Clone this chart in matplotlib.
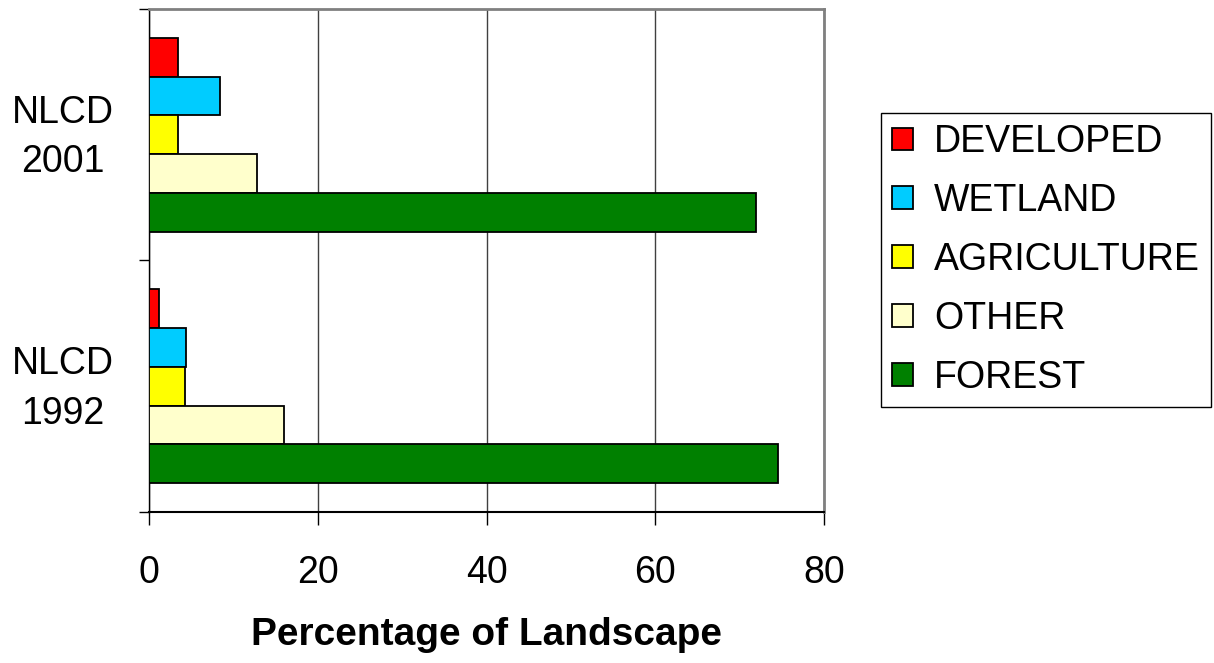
import numpy as np
import matplotlib.pyplot as plt
from matplotlib.patches import Patch
from matplotlib.transforms import ScaledTranslation

# DATOS (porcentaje del paisaje)
periodos = ["NLCD\n1992", "NLCD\n2001"]
clases = ["DEVELOPED", "WETLAND", "AGRICULTURE", "OTHER", "FOREST"]
colores = ["#FF0000", "#00CCFF", "#FFFF00", "#FFFFCC", "#008000"]

developed = [1.2, 3.5]
wetland = [4.4, 8.4]
agriculture = [4.3, 3.5]
other = [16.0, 12.8]
forest = [74.5, 71.9]

valores = [developed, wetland, agriculture, other, forest]

plt.rcParams["font.family"] = ["Liberation Sans", "DejaVu Sans"]

fig = plt.figure(figsize=(12.14, 6.63), dpi=100)
ax = fig.add_axes([0.1227, 0.2278, 0.5561, 0.7586])

y = np.arange(len(periodos))
h = 0.154
desplazamientos = [2, 1, 0, -1, -2]

for serie, color, d in zip(valores, colores, desplazamientos):
    ax.barh(y + d * h, serie, height=h, color=color,
            edgecolor="black", linewidth=1.3, zorder=3)

ax.set_xlim(0, 80)
ax.set_ylim(-0.5, 1.5)
ax.set_xticks([0, 20, 40, 60, 80])
ax.grid(axis="x", color="#404040", linewidth=1.0, zorder=0)

# marcas mayores en los limites de categoria, etiquetas en los centros
ax.set_yticks([-0.5, 0.5, 1.5])
ax.set_yticklabels([])
ax.set_yticks(y, minor=True)
ax.set_yticklabels(periodos, minor=True, fontsize=27,
                   linespacing=1.48, ha="center")
ax.tick_params(axis="y", which="minor", length=0, pad=62)
ax.tick_params(axis="y", which="major", length=7, width=1.0)

# subir un poco las etiquetas de categoria
subir = ScaledTranslation(0, 8 / 100, fig.dpi_scale_trans)
for t in ax.get_yticklabels(minor=True):
    t.set_transform(t.get_transform() + subir)

ax.tick_params(axis="x", length=9, width=1.0, pad=22, labelsize=27)

ax.set_xlabel("Percentage of Landscape", fontsize=28, fontweight="bold",
              labelpad=19)

ax.spines["top"].set_color("#808080")
ax.spines["right"].set_color("#808080")
ax.spines["top"].set_linewidth(2)
ax.spines["right"].set_linewidth(2)
ax.spines["left"].set_linewidth(1.0)
ax.spines["bottom"].set_linewidth(1.5)

manejadores = [Patch(facecolor=c, edgecolor="black", linewidth=1.3)
               for c in colores]
ley = fig.legend(manejadores, clases, loc="upper left",
                 bbox_to_anchor=(0.7257, 0.8296), fontsize=27,
                 frameon=True, fancybox=False, shadow=False,
                 handlelength=0.56, handleheight=0.56, handletextpad=0.55,
                 labelspacing=0.61, borderpad=0.3, borderaxespad=0)
ley.get_frame().set_edgecolor("#000000")
ley.get_frame().set_linewidth(1.0)
ley.get_frame().set_alpha(1)

fig.savefig("out.png", dpi=100)
